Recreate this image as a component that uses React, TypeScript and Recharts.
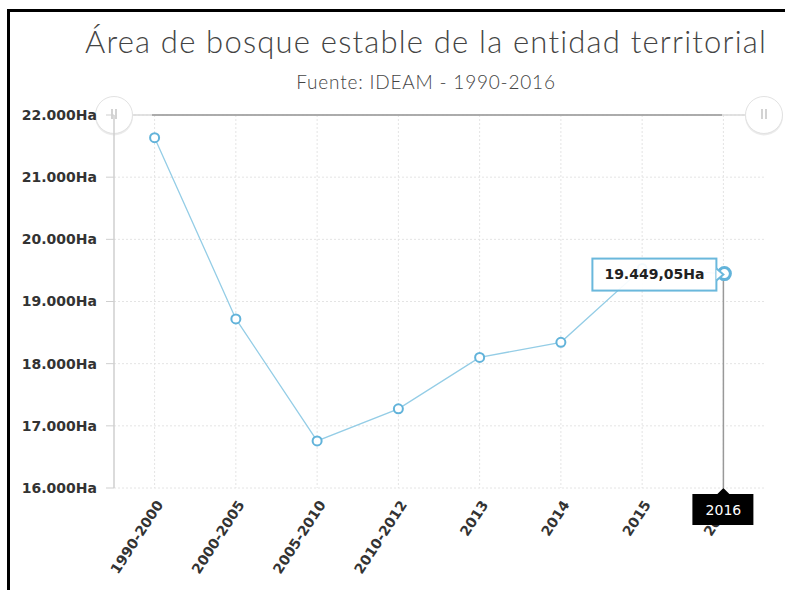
import { LineChart, Line, XAxis, YAxis, CartesianGrid, ReferenceLine } from 'recharts';

const categories = ['1990-2000', '2000-2005', '2005-2010', '2010-2012', '2013', '2014', '2015', '2016'];
const areaHa = [21635, 18720, 16758, 17274, 18101, 18343, 19530, 19449.05];
const yTicks = [16000, 17000, 18000, 19000, 20000, 21000, 22000];
const activeIndex = 7;

const data = categories.map((name, i) => ({ name, value: areaHa[i] }));

const fmtNum = (v: number, dec = 0) => {
  const [ent, frac] = v.toFixed(dec).split('.');
  const miles = ent.replace(/\B(?=(\d{3})+(?!\d))/g, '.');
  return frac ? miles + ',' + frac : miles;
};

const FONT = '"DejaVu Sans", Verdana, sans-serif';
const BLUE = '#62b3da';
const X_PAD = 40.6;

// vertical grid only at the category positions, not at the plot edges
const gridX = (props: any) => {
  const off = props && props.offset;
  if (!off || typeof off.left !== 'number') return [];
  const step = (off.width - 2 * X_PAD) / (categories.length - 1);
  return categories.map((_, i) => off.left + X_PAD + i * step);
};

// tick label; the active category also gets the black cursor label on top of it
const XTick = ({ x, y, payload, index }: any) => (
  <g>
    <g transform={`translate(${x + 5},${y + 14})`}>
      <text x={0} y={0} dy="0.35em" textAnchor="end" transform="rotate(-57)" fill="#333" fontFamily={FONT} fontSize={14} fontWeight="bold">
        {payload.value}
      </text>
    </g>
    {index === activeIndex && (
      <g>
        <path d={`M${x - 6},${y + 6} L${x},${y} L${x + 6},${y + 6} Z`} fill="#000" />
        <rect x={x - 31} y={y + 6} width={61} height={31} fill="#000" />
        <text x={x} y={y + 22} dy="0.35em" textAnchor="middle" fill="#fff" fontFamily={FONT} fontSize={14}>
          {payload.value}
        </text>
      </g>
    )}
  </g>
);

const renderDot = (props: any) => {
  const { cx, cy, index, payload } = props;
  if (index !== activeIndex) {
    return <circle key={index} cx={cx} cy={cy} r={4.5} fill="#fff" stroke={BLUE} strokeWidth={2} />;
  }
  const bx = cx - 131;
  const by = cy - 15;
  return (
    <g key={index}>
      <circle cx={cx + 1} cy={cy} r={6} fill="#fff" stroke={BLUE} strokeWidth={3} />
      <rect x={bx} y={by} width={124} height={32} fill="#fff" fillOpacity={0.92} stroke="#6ab8dc" strokeWidth={2} />
      <path d={`M${bx + 124},${cy - 5} L${bx + 131},${cy + 1} L${bx + 124},${cy + 7}`} fill="#fff" stroke="#6ab8dc" strokeWidth={2} />
      <text x={bx + 62} y={cy + 1} dy="0.35em" textAnchor="middle" fill="#222" fontFamily={FONT} fontSize={14} fontWeight="bold">
        {fmtNum(payload.value, 2)}Ha
      </text>
    </g>
  );
};

const Handle = ({ cx, cy }: { cx: number; cy: number }) => (
  <g>
    <circle cx={cx} cy={cy + 1.5} r={19} fill="#000" opacity={0.08} />
    <circle cx={cx} cy={cy} r={18.5} fill="#fff" stroke="#e2e2e2" strokeWidth={1} />
    <line x1={cx - 2} y1={cy - 6} x2={cx - 2} y2={cy + 4} stroke="#c4c4c4" strokeWidth={1.5} />
    <line x1={cx + 2} y1={cy - 6} x2={cx + 2} y2={cy + 4} stroke="#c4c4c4" strokeWidth={1.5} />
  </g>
);

const ScrollbarLabel = ({ viewBox }: any) => {
  const { x, y, width } = viewBox;
  return (
    <g>
      <line x1={x + 38} y1={y} x2={x + width - 42} y2={y} stroke="#9a9a9a" strokeWidth={1.5} />
      <Handle cx={x} cy={y} />
      <Handle cx={x + width} cy={y} />
    </g>
  );
};

export default function App() {
  return (
    <div style={{ position: 'absolute', left: 0, top: 0, width: 785, height: 590, background: '#fff', overflow: 'hidden' }}>
      <div style={{ position: 'absolute', left: 7, top: 9, width: 3, height: 590, background: '#000' }} />
      <div style={{ position: 'absolute', left: 7, top: 9, width: 785, height: 3, background: '#000' }} />
      <svg width={785} height={110} style={{ position: 'absolute', left: 0, top: 0 }}>
        <text x={426} y={53} textAnchor="middle" fill="#444" fontFamily="Lato, 'Open Sans', sans-serif" fontWeight={300} fontSize={31} letterSpacing={1.2}>
          Área de bosque estable de la entidad territorial
        </text>
        <text x={426} y={89} textAnchor="middle" fill="#444" fontFamily="Lato, 'Open Sans', sans-serif" fontWeight={300} fontSize={19} letterSpacing={0.8}>
          Fuente: IDEAM - 1990-2016
        </text>
      </svg>
      <div style={{ position: 'absolute', left: 0, top: 0 }}>
        <LineChart width={785} height={590} data={data} margin={{ top: 115, right: 21, left: 0, bottom: 0 }}>
          <CartesianGrid stroke="#e4e4e4" strokeDasharray="2 2" verticalCoordinatesGenerator={gridX} />
          <XAxis
            dataKey="name"
            interval={0}
            height={102}
            padding={{ left: X_PAD, right: X_PAD }}
            axisLine={false}
            tickLine={false}
            tickSize={0}
            tickMargin={0}
            tick={<XTick />}
          />
          <YAxis
            width={114}
            domain={[16000, 22000]}
            ticks={yTicks}
            tickFormatter={(v: number) => fmtNum(v) + 'Ha'}
            axisLine={{ stroke: '#cfcfcf', strokeWidth: 1.5 }}
            tickLine={{ stroke: '#cfcfcf' }}
            tickSize={8}
            tickMargin={9}
            tick={{ fill: '#333', fontFamily: FONT, fontSize: 14, fontWeight: 'bold' }}
          />
          <ReferenceLine y={22000} stroke="#d8d8d8" strokeWidth={1.5} label={<ScrollbarLabel />} />
          <ReferenceLine
            segment={[{ x: categories[activeIndex], y: 16000 }, { x: categories[activeIndex], y: areaHa[activeIndex] }]}
            stroke="#999"
            strokeWidth={1.5}
          />
          <Line
            type="linear"
            dataKey="value"
            stroke="#94cde6"
            strokeWidth={1.3}
            dot={renderDot}
            activeDot={false}
            isAnimationActive={false}
          />
        </LineChart>
      </div>
    </div>
  );
}
